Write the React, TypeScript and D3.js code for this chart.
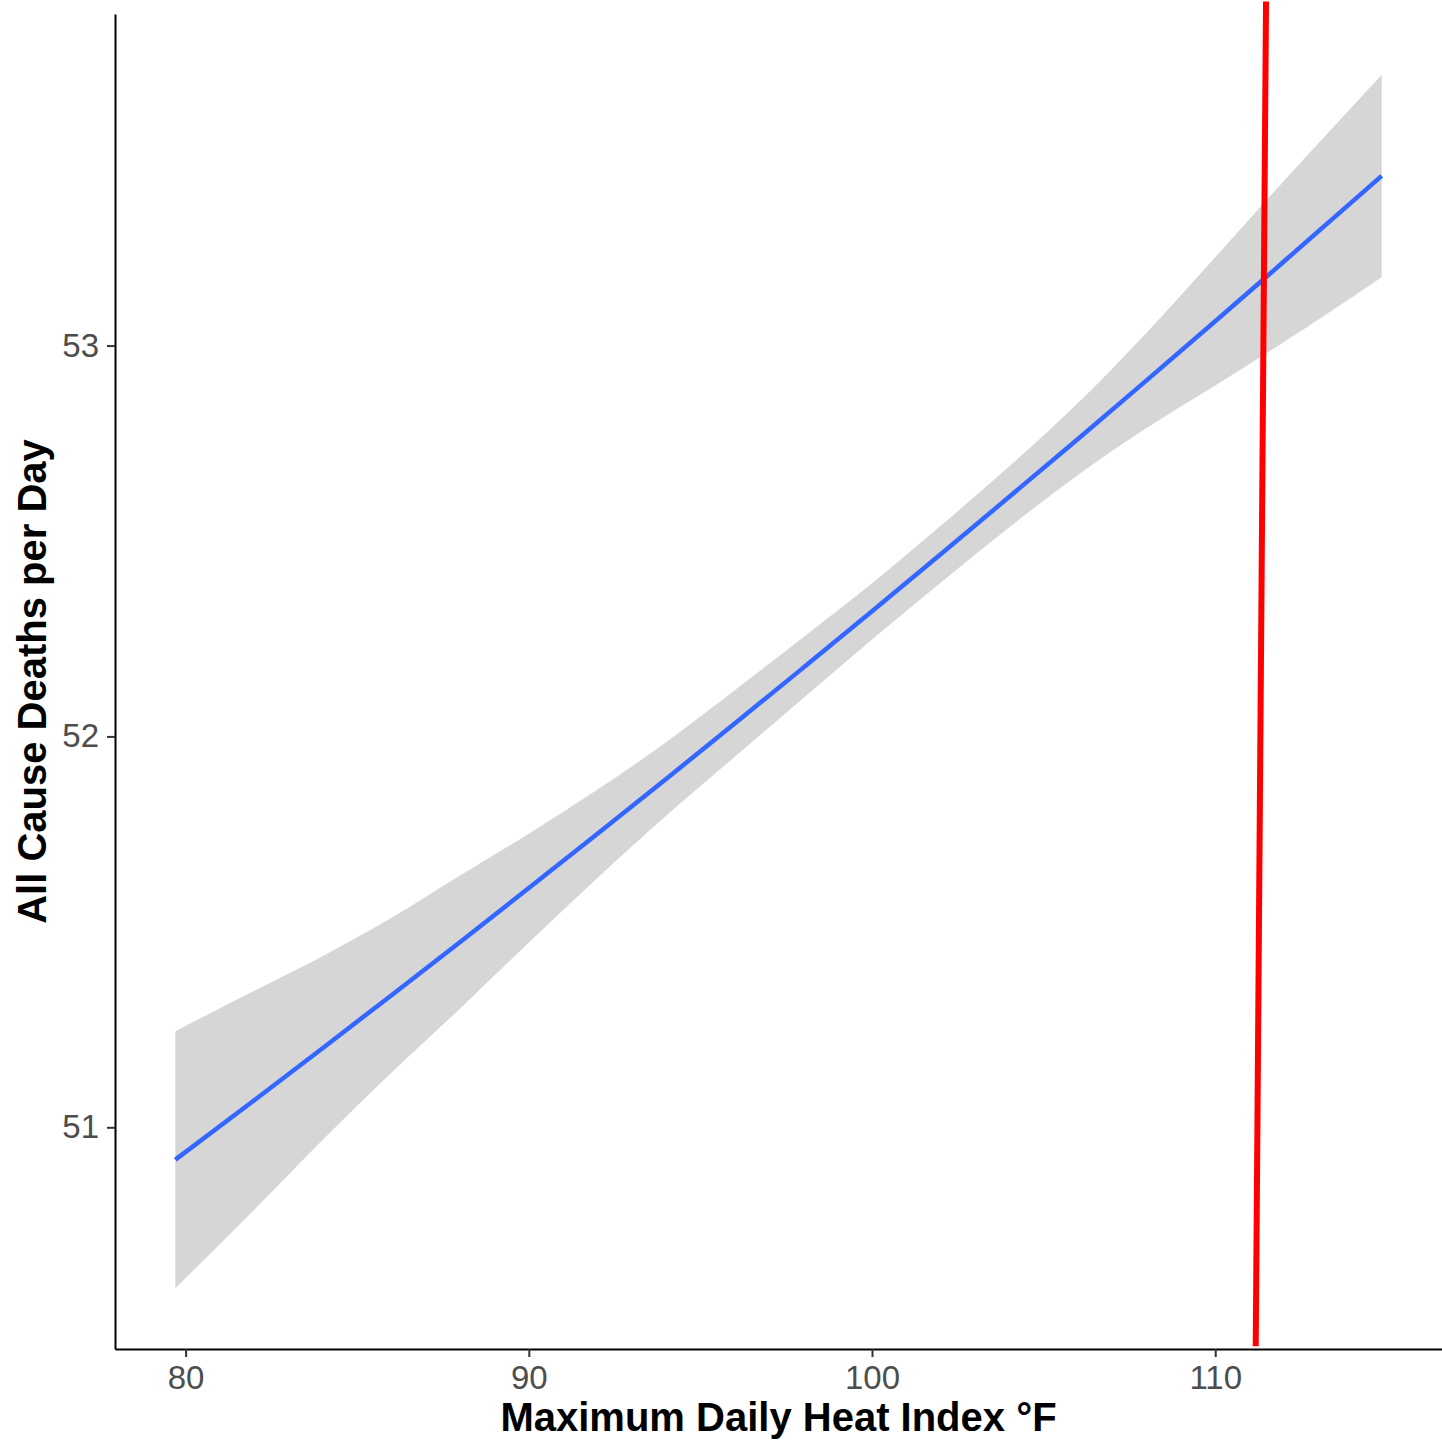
import { useEffect, useRef } from "react";
import * as d3 from "d3";

const WIDTH = 1442;
const HEIGHT = 1440;
const MARGIN = { top: 14, right: 0, bottom: 91, left: 115 };

// smoothed fit with its confidence band
const heatIndex = [79.7, 82, 84, 86, 88, 90, 92, 94, 96, 98, 100, 102, 104, 106, 108, 110, 112, 114.85];
const fitted = [50.917, 51.069, 51.203, 51.338, 51.474, 51.612, 51.751, 51.891, 52.033, 52.176, 52.32, 52.466, 52.613, 52.761, 52.911, 53.062, 53.215, 53.434];
const lower = [50.588, 50.789, 50.968, 51.14, 51.304, 51.473, 51.638, 51.797, 51.948, 52.098, 52.248, 52.393, 52.535, 52.669, 52.789, 52.898, 53.009, 53.175];
const upper = [51.246, 51.349, 51.438, 51.536, 51.644, 51.751, 51.864, 51.985, 52.118, 52.254, 52.392, 52.539, 52.691, 52.853, 53.033, 53.226, 53.421, 53.693];

const xTicks = [80, 90, 100, 110];
const yTicks = [51, 52, 53];

// hand drawn red marker (slightly slanted)
const markerLine = [
  { x: 111.18, y: 50.44 },
  { x: 111.48, y: 53.88 },
];

const X_LABEL = "Maximum Daily Heat Index °F";
const Y_LABEL = "All Cause Deaths per Day";
const FONT = "'Liberation Sans', Arial, Helvetica, sans-serif";

// ggplot-like 5% expansion
const expand = ([lo, hi]: number[]) => {
  const pad = (hi - lo) * 0.05;
  return [lo - pad, hi + pad];
};

export default function App() {
  const ref = useRef<SVGSVGElement>(null);

  useEffect(() => {
    const svg = d3.select(ref.current);
    svg.selectAll("*").remove();

    const x = d3
      .scaleLinear()
      .domain(expand(d3.extent(heatIndex) as number[]))
      .range([MARGIN.left, WIDTH - MARGIN.right]);
    const y = d3
      .scaleLinear()
      .domain(expand([d3.min(lower)!, d3.max(upper)!]))
      .range([HEIGHT - MARGIN.bottom, MARGIN.top]);

    const rows = heatIndex.map((h, i) => ({ h, fit: fitted[i], lo: lower[i], hi: upper[i] }));

    const band = d3
      .area<any>()
      .x((d) => x(d.h))
      .y0((d) => y(d.lo))
      .y1((d) => y(d.hi))
      .curve(d3.curveMonotoneX);
    svg.append("path").attr("d", band(rows)).attr("fill", "#d6d6d6");

    const line = d3
      .line<any>()
      .x((d) => x(d.h))
      .y((d) => y(d.fit))
      .curve(d3.curveMonotoneX);
    svg
      .append("path")
      .attr("d", line(rows))
      .attr("fill", "none")
      .attr("stroke", "#3366ff")
      .attr("stroke-width", 4.5);

    // axes
    const xAxis = svg
      .append("g")
      .attr("transform", `translate(0,${HEIGHT - MARGIN.bottom})`)
      .call(
        d3.axisBottom(x).tickValues(xTicks).tickFormat(d3.format("d")).tickSize(8).tickSizeOuter(0).tickPadding(9)
      );
    const yAxis = svg
      .append("g")
      .attr("transform", `translate(${MARGIN.left},0)`)
      .call(
        d3.axisLeft(y).tickValues(yTicks).tickFormat(d3.format("d")).tickSize(8).tickSizeOuter(0).tickPadding(8)
      );

    [xAxis, yAxis].forEach((g) => {
      g.attr("font-size", null).attr("font-family", null);
      g.select(".domain").attr("stroke", "#000").attr("stroke-width", 2);
      g.selectAll(".tick line").attr("stroke", "#333").attr("stroke-width", 2);
      g.selectAll(".tick text")
        .attr("fill", "#4d4d4d")
        .style("font-size", "33px")
        .style("font-family", FONT);
    });

    svg
      .append("text")
      .attr("x", (MARGIN.left + WIDTH - MARGIN.right) / 2)
      .attr("y", 1431)
      .attr("text-anchor", "middle")
      .style("font-family", FONT)
      .style("font-size", "40px")
      .style("font-weight", "bold")
      .attr("fill", "#000")
      .text(X_LABEL);

    svg
      .append("text")
      .attr("transform", `translate(46,${(MARGIN.top + HEIGHT - MARGIN.bottom) / 2}) rotate(-90)`)
      .attr("text-anchor", "middle")
      .style("font-family", FONT)
      .style("font-size", "40px")
      .style("font-weight", "bold")
      .attr("fill", "#000")
      .text(Y_LABEL);

    // red marker over everything
    svg
      .append("path")
      .attr(
        "d",
        d3
          .line<any>()
          .x((d) => x(d.x))
          .y((d) => y(d.y))(markerLine)
      )
      .attr("stroke", "#ff0000")
      .attr("stroke-width", 6)
      .attr("fill", "none");
  }, []);

  return (
    <svg
      ref={ref}
      width={WIDTH}
      height={HEIGHT}
      style={{ position: "absolute", left: 0, top: 0, background: "#fff", display: "block" }}
    />
  );
}
